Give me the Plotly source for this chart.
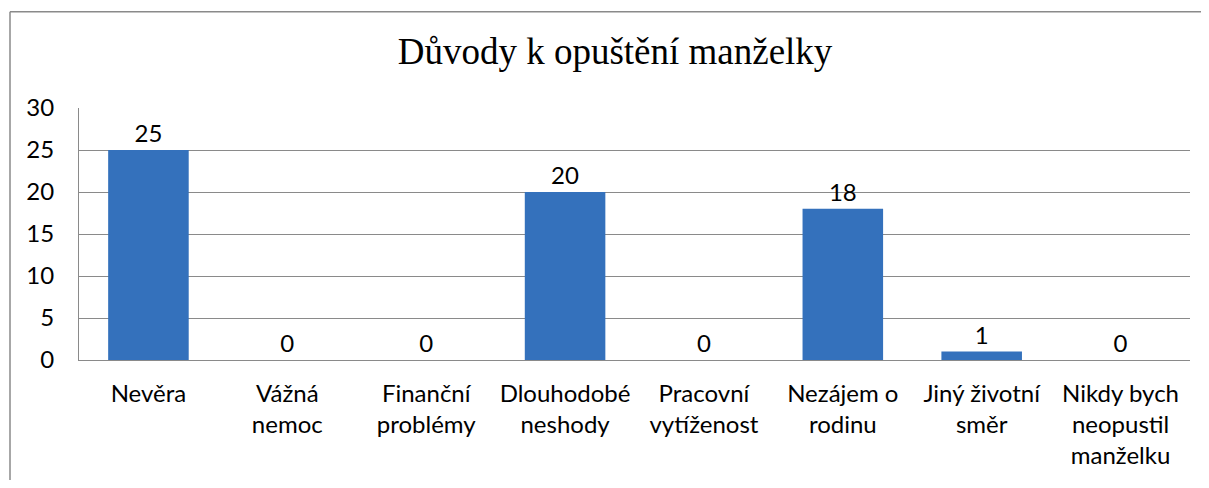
import plotly.graph_objects as go

categories = ["Nevěra", "Vážná<br>nemoc", "Finanční<br>problémy", "Dlouhodobé<br>neshody",
              "Pracovní<br>vytíženost", "Nezájem o<br>rodinu", "Jiný životní<br>směr",
              "Nikdy bych<br>neopustil<br>manželku"]
values = [25, 0, 0, 20, 0, 18, 1, 0]
y_ticks = [0, 5, 10, 15, 20, 25, 30]
title_text = "Důvody k opuštění manželky"

# page has an 8px body margin; figure coordinates = page coordinates - 8
W, H = 1193, 472
L, R, T, B = 71, 11, 100, 118
pw, ph = W - L - R, H - T - B

def px_x(x):
    return (x - L) / pw

def px_y(y):
    return (H - B - y) / ph

fig = go.Figure()
fig.add_trace(go.Bar(
    x=categories, y=values,
    marker=dict(color="#3471bc", line=dict(width=0)),
    width=0.58,
    text=[str(v) for v in values], textposition="outside",
    textfont=dict(family="Lato", size=24, color="#000000"),
    cliponaxis=False,
))

border = dict(color="#8a8a8a", width=1.5)
fig.update_layout(
    width=W, height=H,
    margin=dict(l=L, r=R, t=T, b=B),
    paper_bgcolor="white", plot_bgcolor="white",
    showlegend=False,
    font=dict(family="Lato", size=24, color="#000000"),
    title=dict(text=title_text, x=607 / W, xanchor="center", xref="container",
               y=1 - 43 / H, yanchor="middle", yref="container",
               font=dict(family="Liberation Serif", size=37, color="#000000")),
    yaxis=dict(range=[0, 30], tickvals=y_ticks, showgrid=True, gridcolor="#8a8a8a", gridwidth=1,
               showline=True, linecolor="#8a8a8a", linewidth=1, zeroline=False,
               ticks="", ticklabelstandoff=19, tickfont=dict(family="Lato", size=24, color="#000000")),
    xaxis=dict(showline=True, linecolor="#8a8a8a", linewidth=1, ticks="",
               ticklabelstandoff=12, tickfont=dict(family="Lato", size=24, color="#000000")),
    bargap=0.42,
    shapes=[
        dict(type="line", xref="paper", yref="paper",
             x0=px_x(2), x1=px_x(1300), y0=px_y(3), y1=px_y(3), line=border, layer="below"),
        dict(type="line", xref="paper", yref="paper",
             x0=px_x(2), x1=px_x(2), y0=px_y(3), y1=px_y(600), line=border, layer="below"),
    ],
)

fig.write_html("out.html")
